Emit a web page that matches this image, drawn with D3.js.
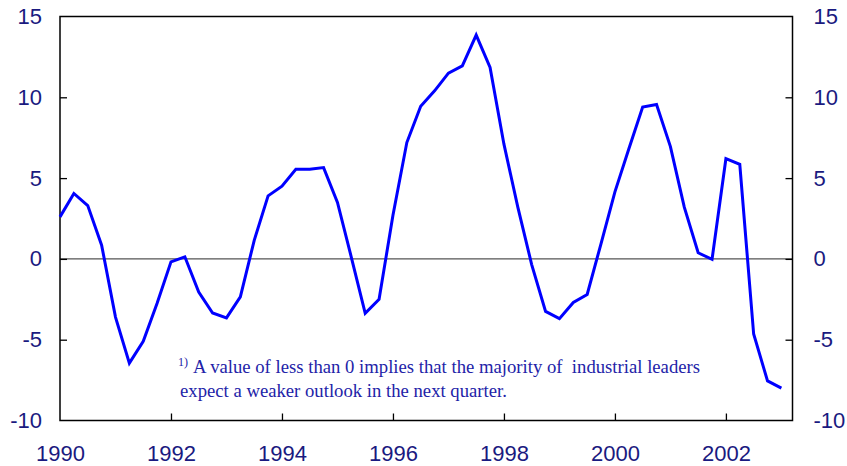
<!DOCTYPE html>
<html>
<head>
<meta charset="utf-8">
<script src="https://cdn.jsdelivr.net/npm/d3@7"></script>
<style>
  body { margin: 0; background: #fff; }
  svg { display: block; }
  .note text { white-space: pre; }
</style>
</head>
<body>
<svg id="chart" width="847" height="466"></svg>
<script>
// quarterly values, 1990 Q1 .. 2003 Q1
const startYear = 1990;
const values = [
  2.6, 4.05, 3.3, 0.85, -3.6, -6.45, -5.1, -2.75, -0.18, 0.13,
  -2.05, -3.35, -3.65, -2.35, 1.15, 3.9, 4.5, 5.55, 5.55, 5.65,
  3.5, 0.1, -3.37, -2.5, 2.7, 7.2, 9.45, 10.4, 11.5, 11.95,
  13.85, 11.85, 7.1, 3.2, -0.35, -3.25, -3.7, -2.7, -2.2, 0.95,
  4.15, 6.8, 9.4, 9.55, 6.95, 3.2, 0.38, -0.03, 6.2, 5.85,
  -4.65, -7.55, -8.0
];
const xTicks = [1990, 1992, 1994, 1996, 1998, 2000, 2002];
const yTicks = [15, 10, 5, 0, -5, -10];
const noteLines = [
  "A value of less than 0 implies that the majority of  industrial leaders",
  "expect a weaker outlook in the next quarter."
];

const data = values.map((v, i) => ({ t: startYear + i / 4, v: v }));

const svg = d3.select("#chart");
const plotL = 60, plotR = 792.5, plotT = 16.5, plotB = 420.5;

const x = d3.scaleLinear().domain([1990, 2003.2]).range([plotL, plotR]);
const y = d3.scaleLinear().domain([-10, 15]).range([plotB, plotT]);

const labelColor = "#1a1a80";
const fmt = d => String(d); // plain hyphen minus like the original

// zero line
svg.append("line")
  .attr("x1", plotL).attr("x2", plotR)
  .attr("y1", y(0)).attr("y2", y(0))
  .attr("stroke", "#555").attr("stroke-width", 1.3);

// frame
svg.append("rect")
  .attr("x", plotL).attr("y", plotT)
  .attr("width", plotR - plotL).attr("height", plotB - plotT)
  .attr("fill", "none").attr("stroke", "#000").attr("stroke-width", 1.5);

// left axis
const yLeft = svg.append("g").attr("transform", `translate(${plotL},0)`)
  .call(d3.axisLeft(y).tickValues(yTicks).tickSize(-7).tickPadding(18).tickFormat(fmt));
// right axis
const yRight = svg.append("g").attr("transform", `translate(${plotR},0)`)
  .call(d3.axisRight(y).tickValues(yTicks).tickSize(-7).tickPadding(21).tickFormat(fmt));
// bottom axis
const xAxis = svg.append("g").attr("transform", `translate(0,${plotB})`)
  .call(d3.axisBottom(x).tickValues(xTicks).tickSize(-7).tickPadding(25).tickFormat(fmt));

[yLeft, yRight, xAxis].forEach(g => {
  g.select(".domain").remove();
  g.selectAll(".tick line").attr("stroke", "#000").attr("stroke-width", 1.3);
  g.selectAll(".tick text")
    .attr("fill", labelColor)
    .attr("font-family", "Liberation Sans, Arial, sans-serif")
    .attr("font-size", 22);
});
// the corner ticks sit on the frame anyway
yLeft.selectAll(".tick line").filter(d => d === 15 || d === -10).remove();
yRight.selectAll(".tick line").filter(d => d === 15 || d === -10).remove();
xAxis.selectAll(".tick line").filter(d => d === 1990).remove();

// series
const line = d3.line().x(d => x(d.t)).y(d => y(d.v));
svg.append("path")
  .datum(data)
  .attr("d", line)
  .attr("fill", "none")
  .attr("stroke", "#0000ff")
  .attr("stroke-width", 3)
  .attr("stroke-linejoin", "miter");

// footnote
const note = svg.append("g")
  .attr("class", "note")
  .attr("font-family", "Liberation Serif, Times New Roman, serif")
  .attr("fill", "#2323a8");
note.append("text").attr("x", 178).attr("y", 366).attr("font-size", 12).text("1)");
note.append("text").attr("x", 193).attr("y", 373).attr("font-size", 18.7)
  .attr("xml:space", "preserve").text(noteLines[0]);
note.append("text").attr("x", 180).attr("y", 397).attr("font-size", 18.7).text(noteLines[1]);
</script>
</body>
</html>
